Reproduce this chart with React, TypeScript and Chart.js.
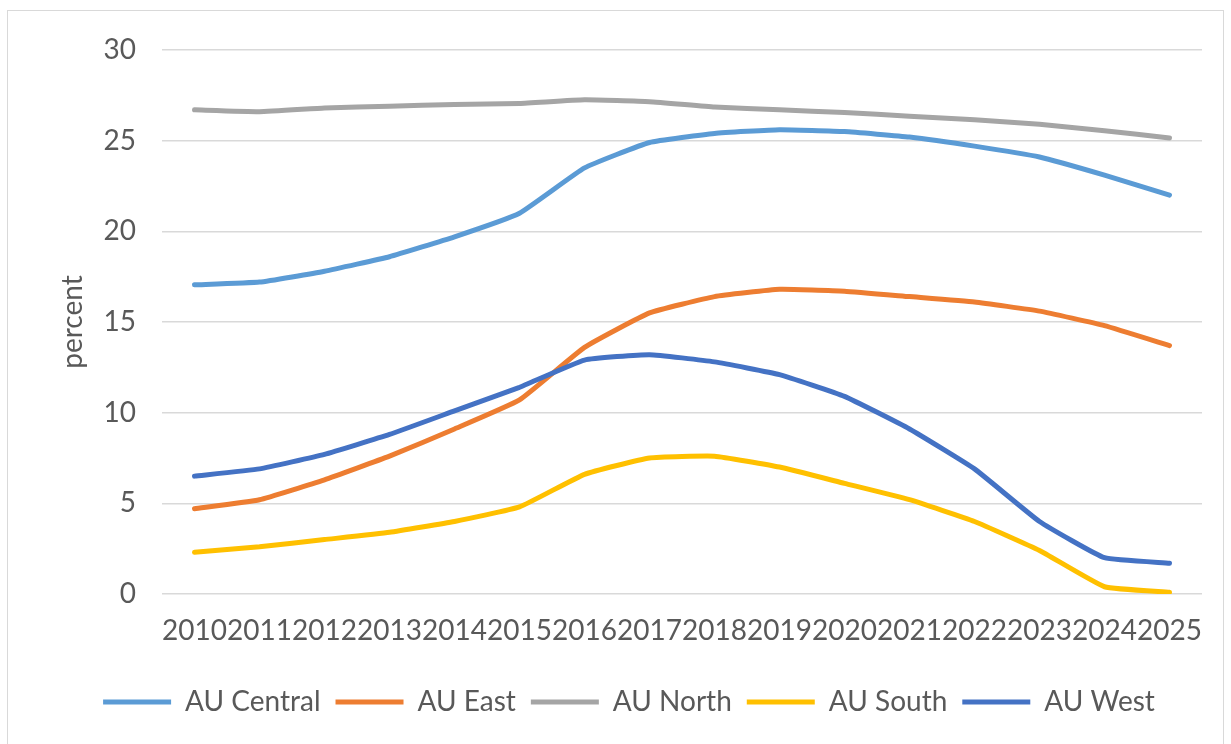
import React, { useEffect, useRef } from "react";
import { Chart, registerables } from "chart.js";

Chart.register(...registerables);

const years = ["2010","2011","2012","2013","2014","2015","2016","2017","2018","2019","2020","2021","2022","2023","2024","2025"];
const auCentral = [17.05, 17.2, 17.8, 18.6, 19.7, 21.0, 23.5, 24.9, 25.4, 25.6, 25.5, 25.2, 24.7, 24.1, 23.1, 22.0];
const auEast = [4.7, 5.2, 6.3, 7.6, 9.1, 10.7, 13.6, 15.5, 16.4, 16.8, 16.7, 16.4, 16.1, 15.6, 14.8, 13.7];
const auNorth = [26.7, 26.6, 26.8, 26.9, 27.0, 27.05, 27.25, 27.15, 26.85, 26.7, 26.55, 26.35, 26.15, 25.9, 25.55, 25.15];
const auSouth = [2.3, 2.6, 3.0, 3.4, 4.0, 4.8, 6.6, 7.5, 7.6, 7.0, 6.1, 5.2, 4.0, 2.4, 0.4, 0.1];
const auWest = [6.5, 6.9, 7.7, 8.8, 10.1, 11.4, 12.9, 13.2, 12.8, 12.1, 10.9, 9.1, 6.9, 4.0, 2.0, 1.7];
const seriesNames = ["AU Central", "AU East", "AU North", "AU South", "AU West"];
const seriesColors = ["#5B9BD5", "#ED7D31", "#A5A5A5", "#FFC000", "#4472C4"];
const yTicks = [0, 5, 10, 15, 20, 25, 30];

const FONT = "Lato, 'Open Sans', sans-serif";
const TEXT = "#595959";

const legendShift = {
  id: "legendShift",
  afterLayout(chart: any) {
    const lg = chart.legend;
    if (lg) {
      lg.left += 28;
      lg.right += 28;
    }
  },
};

export default function App() {
  const ref = useRef<HTMLCanvasElement | null>(null);
  useEffect(() => {
    document.body.style.margin = "0";
    const values = [auCentral, auEast, auNorth, auSouth, auWest];
    const chart = new Chart(ref.current as HTMLCanvasElement, {
      type: "line",
      data: {
        labels: years,
        datasets: values.map((v, i) => ({
          label: seriesNames[i],
          data: v,
          borderColor: seriesColors[i],
          backgroundColor: seriesColors[i],
          borderWidth: 5,
          pointRadius: 0,
          pointHoverRadius: 0,
          pointStyle: "line" as const,
          tension: 0.12,
          borderCapStyle: "round" as const,
          borderJoinStyle: "round" as const,
          fill: false,
          order: 5 - i,
        })),
      },
      plugins: [legendShift],
      options: {
        animation: false,
        responsive: true,
        maintainAspectRatio: false,
        layout: { padding: { top: 50, right: 29, bottom: 18, left: 0 } },
        plugins: {
          tooltip: { enabled: false },
          legend: {
            position: "bottom",
            labels: {
              usePointStyle: true,
              pointStyle: "line",
              pointStyleWidth: 68,
              boxHeight: 28,
              padding: 15,
              color: TEXT,
              font: { family: FONT, size: 28 },
              sort: (a: any, b: any) => a.datasetIndex - b.datasetIndex,
            },
          },
        },
        scales: {
          x: {
            offset: true,
            grid: { display: false },
            border: { display: false },
            ticks: {
              autoSkip: false,
              maxRotation: 0,
              minRotation: 0,
              padding: 12,
              color: TEXT,
              font: { family: FONT, size: 28 },
            },
            afterFit: (s: any) => { s.height = 79; },
          },
          y: {
            min: 0,
            max: 30,
            afterBuildTicks: (s: any) => { s.ticks = yTicks.map((v) => ({ value: v })); },
            grid: { color: "#D9D9D9", lineWidth: 1.5, drawTicks: false },
            border: { display: false },
            ticks: {
              padding: 26,
              color: TEXT,
              font: { family: FONT, size: 28 },
            },
            title: {
              display: true,
              text: "percent",
              color: TEXT,
              font: { family: FONT, size: 28 },
              padding: { top: 56, bottom: 0 },
            },
            afterFit: (s: any) => { s.width = 162; },
          },
        },
      },
    });
    return () => chart.destroy();
  }, []);
  return (
    <div style={{ position: "fixed", left: 0, top: 0, width: 1231, height: 744, background: "#fff" }}>
      <div style={{ position: "absolute", left: 7, top: 10, width: 1217, height: 740, border: "1.5px solid #D9D9D9", boxSizing: "border-box" }} />
      <canvas ref={ref} style={{ position: "absolute", left: 0, top: 0 }} />
    </div>
  );
}
